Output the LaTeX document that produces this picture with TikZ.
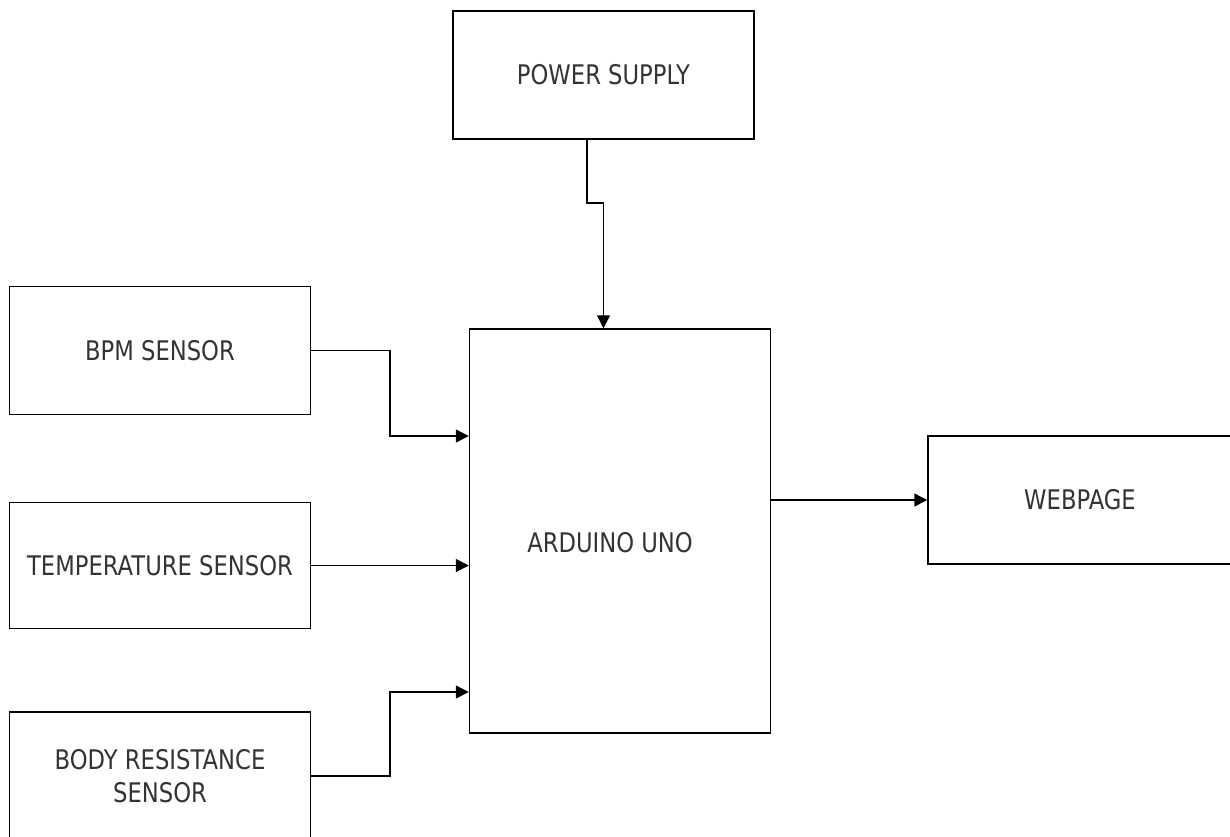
\documentclass[tikz,border=0pt]{standalone}
\usepackage{fontspec}
\setmainfont{DejaVu Sans}[FakeStretch=0.84]
\usepackage{tikz}
\usetikzlibrary{arrows.meta}

\tikzset{
  blk/.style={draw=black,line width=1.5pt,fill=white,align=center,text=black!80,
    font=\fontsize{27}{33}\selectfont},
  lbl/.style={align=center,text=black!80,font=\fontsize{27}{33}\selectfont},
  arr/.style={line width=1.5pt,-{Triangle[length=13pt,width=13pt]}}
}

\begin{document}
\begin{tikzpicture}[x=1pt,y=-1pt]
\useasboundingbox(0,0)rectangle(1230,836);
\fill[white](0,0)rectangle(1230,836);
% blocks
\node[blk,minimum width=301pt,minimum height=128pt](power)at(603.5,75){POWER SUPPLY};
\node[blk,minimum width=301pt,minimum height=404pt](ard)at(620,531){};
\node[lbl](ardtxt)at(610,543){ARDUINO UNO};
\node[blk,minimum width=301pt,minimum height=128pt](bpm)at(160,350.5){BPM SENSOR};
\node[blk,minimum width=301pt,minimum height=126pt](temp)at(160,565.5){TEMPERATURE SENSOR};
\node[blk,minimum width=301pt,minimum height=128pt](body)at(160,776){BODY RESISTANCE\\SENSOR};
\node[blk,minimum width=304pt,minimum height=128pt](web)at(1080,500){WEBPAGE};
% connectors
\draw[arr]([xshift=-16.5pt]power.south)--++(0,63)-|(ard.north-|power.south);
\draw[arr](bpm.east)-|(390,436)--(ard.west|-390,436);
\draw[arr](temp.east)--(temp.east-|ard.west);
\draw[arr](body.east)-|(390,692)--(ard.west|-390,692);
\draw[arr](ard.east|-web.west)--(web.west);
\end{tikzpicture}
\end{document}
